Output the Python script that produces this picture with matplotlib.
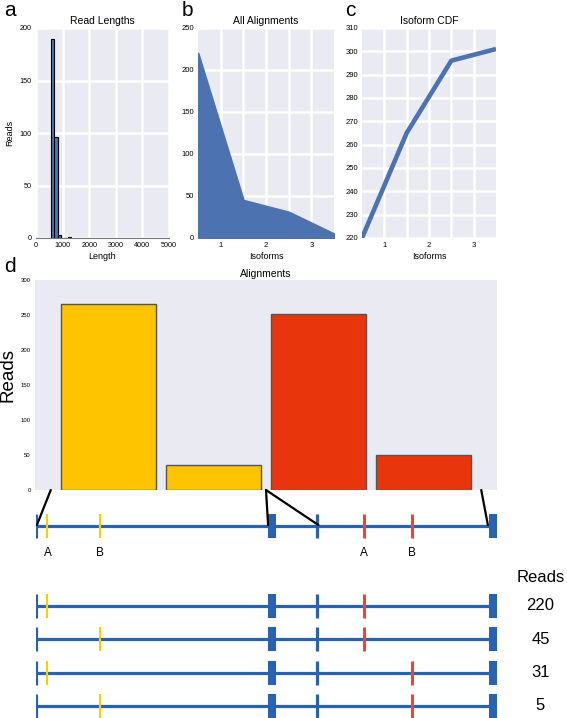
import matplotlib.pyplot as plt
from matplotlib.patches import ConnectionPatch
import numpy as np

plt.rcParams['font.family'] = ['Liberation Sans', 'DejaVu Sans']

# a: read length histogram
len_edges = [560, 685, 810, 935, 1060, 1185, 1310]
len_counts = [190, 96, 3, 0, 0, 1]

# b, c: reads per isoform
iso_x = [0.5, 1.5, 2.5, 3.5]
iso_reads = [220, 45, 31, 5]
iso_cdf = [220, 265, 296, 301]

# d: alignments per variant
align_vals = [265, 36, 251, 50]
align_colors = ['#FFC400', '#FFC400', '#E8350C', '#E8350C']

# gene model, positions in % of gene length
exon_thin = [0, 61.4]
exon_thick = [51.6, 100]
var_yellow = {'A': 2.5, 'B': 14.0}
var_red = {'A': 71.7, 'B': 82.2}
row_reads = [220, 45, 31, 5]
row_yellow = ['A', 'B', 'A', 'B']
row_red = ['A', 'A', 'B', 'B']

BLUE = '#4C72B0'
GENE = '#2A62B2'
YEL = '#FFCC00'
RED = '#EE4433'
BG = '#EAEAF2'

W, H = 567, 718
fig = plt.figure(figsize=(W / 100, H / 100), dpi=100)


def px_axes(l, t, r, b):
    return fig.add_axes([l / W, 1 - b / H, (r - l) / W, (b - t) / H])


def style(ax, fs=5.5):
    ax.set_facecolor(BG)
    for s in ax.spines.values():
        s.set_visible(False)
    ax.tick_params(length=0, labelsize=fs, pad=3)
    ax.grid(True, color='white', lw=1.8)
    ax.set_axisbelow(True)


# panel a
axa = px_axes(36, 28, 169, 238)
style(axa, 5.2)
axa.bar(len_edges[:-1], len_counts, width=np.diff(len_edges), align='edge',
        color=BLUE, edgecolor='black', lw=0.8)
axa.set_xlim(0, 5000)
axa.set_ylim(0, 200)
axa.set_xticks(range(0, 5001, 1000))
axa.set_yticks(range(0, 201, 50))
axa.spines['bottom'].set_visible(True)
axa.spines['bottom'].set_color('#777777')
axa.set_title('Read Lengths', fontsize=7.5, pad=3)
axa.set_xlabel('Length', fontsize=6.5, labelpad=2)
axa.set_ylabel('Reads', fontsize=6.5, labelpad=4)

# panel b
axb = px_axes(198, 28, 334, 238)
style(axb)
axb.fill_between(iso_x, iso_reads, color=BLUE, lw=1.5, edgecolor=BLUE)
axb.set_xlim(0.5, 3.5)
axb.set_ylim(0, 250)
axb.set_xticks([1, 1.5, 2, 2.5, 3])
axb.set_xticklabels(['1', '', '2', '', '3'])
axb.set_yticks(range(0, 251, 50))
axb.set_title('All Alignments', fontsize=7.5, pad=3)
axb.set_xlabel('Isoforms', fontsize=6.5, labelpad=2)

# panel c
axc = px_axes(362, 28, 496, 238)
style(axc)
axc.plot(iso_x, iso_cdf, color=BLUE, lw=3.3, solid_capstyle='butt')
axc.set_xlim(0.5, 3.5)
axc.set_ylim(220, 310)
axc.set_xticks([1, 1.5, 2, 2.5, 3])
axc.set_xticklabels(['1', '', '2', '', '3'])
axc.set_yticks(range(220, 311, 10))
axc.set_title('Isoform CDF', fontsize=7.5, pad=3)
axc.set_xlabel('Isoforms', fontsize=6.5, labelpad=2)

# panel d
axd = px_axes(35, 280, 497, 490)
style(axd, 4.3)
axd.grid(False)
bar_x = np.arange(len(align_vals))
axd.bar(bar_x, align_vals, width=0.9, color=align_colors,
        edgecolor='#555555', lw=1)
axd.set_xlim(-0.7, 3.7)
axd.set_ylim(0, 300)
axd.set_xticks([])
axd.set_yticks(range(0, 301, 50))
axd.set_title('Alignments', fontsize=7.5, pad=2)
axd.set_ylabel('Reads', fontsize=13.5)
axd.yaxis.set_label_coords(-0.040, 0.55)

# panel letters
for lab, x, y in [('a', 10, 10), ('b', 187, 10), ('c', 350, 10), ('d', 10, 267)]:
    fig.text(x / W, 1 - y / H, lab, fontsize=15, ha='center', va='center')

# gene diagram
axg = px_axes(36, 490, 497, 718)
axg.set_xlim(0, 100.9)
axg.set_ylim(4.36, -2.48)
axg.axis('off')
y_ref = -1.39
tick_h = 0.36


def gene_row(y, yel, red):
    axg.plot([0, 100], [y, y], color=GENE, lw=2.3, solid_capstyle='butt')
    axg.vlines(exon_thin, y - tick_h, y + tick_h, color=GENE, lw=2.3)
    axg.vlines(exon_thick, y - tick_h, y + tick_h, color=GENE, lw=5.8)
    axg.vlines(yel, y - tick_h, y + tick_h, color=YEL, lw=1.5)
    axg.vlines(red, y - tick_h, y + tick_h, color=RED, lw=2.2)


gene_row(y_ref, list(var_yellow.values()), list(var_red.values()))
for k, v in list(var_yellow.items()) + list(var_red.items()):
    axg.text(v, y_ref + 0.8, k, fontsize=8.5, ha='center', va='center')

axg.text(110.4, 0.16, 'Reads', fontsize=12, ha='center', va='center', clip_on=False)
for i, (n, yk, rk) in enumerate(zip(row_reads, row_yellow, row_red), start=1):
    gene_row(i, var_yellow[yk], var_red[rk])
    axg.text(110.4, i, str(n), fontsize=12, ha='center', va='center', clip_on=False)

# links from bar chart gaps to exon boundaries
links = [(bar_x[0] - 0.55, exon_thin[0] + 0.2),
         ((bar_x[1] + bar_x[2]) / 2, exon_thick[0] - 0.8),
         ((bar_x[1] + bar_x[2]) / 2, exon_thin[1] + 0.4),
         (bar_x[-1] + 0.55, exon_thick[1] - 1.1)]
for xa, xg in links:
    con = ConnectionPatch(xyA=(xa, 0), coordsA=axd.transData,
                          xyB=(xg, y_ref - 0.04), coordsB=axg.transData,
                          color='black', lw=1.6)
    fig.add_artist(con)

fig.savefig('out.png', dpi=100)
